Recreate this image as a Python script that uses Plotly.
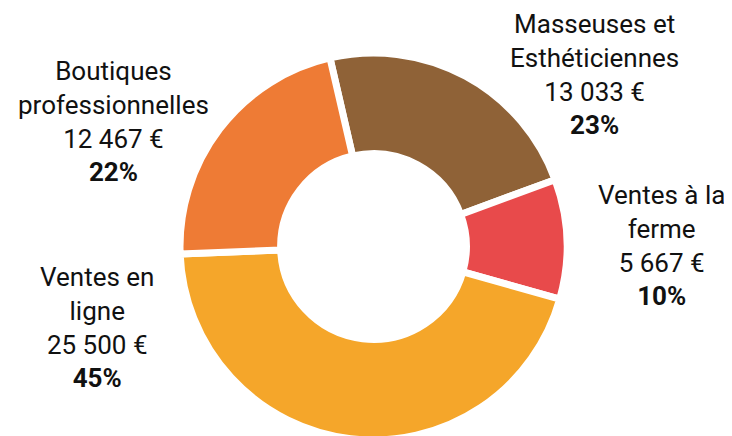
import plotly.graph_objects as go

# Data
categories = ["Masseuses et<br>Esthéticiennes", "Ventes à la<br>ferme", "Ventes en<br>ligne", "Boutiques<br>professionnelles"]
values = [13033, 5667, 25500, 12467]
colors = ["#8F6237", "#E84A4B", "#F5A62A", "#EE7B35"]

# The page body has an 8px default margin, so the figure is sized/offset to fit 732x436.
OFF = 8
W, H = 724, 432

# label block centres (page pixels)
label_pos = [(594, 74), (661, 245), (97, 327), (114, 121)]

total = sum(values)

def fmt_eur(v):
    return f"{v:,}".replace(",", " ") + " €"

cx, cy, r = 373.5 - OFF, 246.5 - OFF, 193.5
fig = go.Figure(go.Pie(
    labels=[c.replace("<br>", " ") for c in categories],
    values=values,
    sort=False,
    direction="clockwise",
    rotation=-13,
    hole=0.48,
    marker=dict(colors=colors, line=dict(color="white", width=7)),
    textinfo="none",
    hoverinfo="label+value+percent",
    domain=dict(x=[(cx - r) / W, (cx + r) / W], y=[0.0, 2 * r / H]),
    showlegend=False,
))

for cat, v, (px, py) in zip(categories, values, label_pos):
    pct = round(v / total * 100)
    fig.add_annotation(
        x=(px - OFF) / W, y=1 - (py - OFF) / H, xref="paper", yref="paper",
        xanchor="center", yanchor="middle", showarrow=False,
        text=f"{cat}<br>{fmt_eur(v)}<br><b>{pct}%</b>",
        font=dict(family="Roboto", size=26, color="#111111"),
        align="center",
    )

fig.update_layout(
    width=W, height=H,
    margin=dict(l=0, r=0, t=0, b=0),
    paper_bgcolor="white", plot_bgcolor="white",
)

fig.write_html("out.html")
